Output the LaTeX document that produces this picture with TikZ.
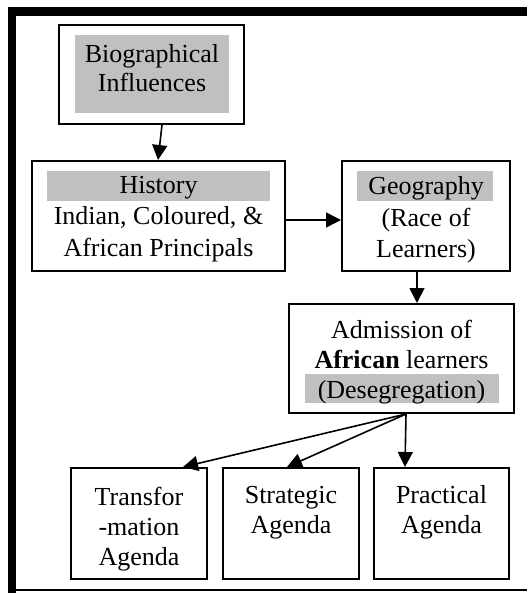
\documentclass[tikz,border=0pt]{standalone}
\usepackage{fontspec}
\setmainfont{Liberation Serif}
\usetikzlibrary{arrows.meta}
\definecolor{hl}{RGB}{192,192,192}
\begin{document}
\begin{tikzpicture}[x=1pt,y=-1pt,
  box/.style={draw, line width=1.6pt, inner sep=0pt},
  txt/.style={anchor=base, inner sep=0pt, font=\fontsize{26}{30}\selectfont},
  arr/.style={line width=1.6pt, -{Triangle[length=15pt,width=15pt]}}]
\useasboundingbox (0,0) rectangle (527,593);

% outer frame: heavy top and left rules, thin bottom rule
\fill (8,7) rectangle (527,16);
\fill (8,7) rectangle (16,593);
\draw[line width=2pt] (16,589.5) -- (527,589.5);

% grey highlight bars behind headings
\fill[hl] (75,35) rectangle (229,113);
\fill[hl] (47,171) rectangle (270,201);
\fill[hl] (357,171) rectangle (493,201);
\fill[hl] (305,374) rectangle (499,403);

% boxes
\node[box, minimum width=185.4pt, minimum height=99.4pt] (bio) at (151.5,74.5) {};
\node[box, minimum width=253.4pt, minimum height=110.4pt] (hist) at (158.5,216) {};
\node[box, minimum width=168.4pt, minimum height=110.4pt] (geo) at (426,216) {};
\node[box, minimum width=225.4pt, minimum height=109.4pt] (adm) at (401.5,358.5) {};
\node[box, minimum width=136.4pt, minimum height=111.4pt] (tr) at (139,523.5) {};
\node[box, minimum width=136.4pt, minimum height=111.4pt] (st) at (291,523.5) {};
\node[box, minimum width=135.4pt, minimum height=111.4pt] (pr) at (441.5,523.5) {};

% box texts
\node[txt] (bio1) at (152,62.7) {Biographical};
\node[txt] (bio2) at (152,91.7) {Influences};

\node[txt] (hist1) at (158.5,194) {History};
\node[txt] (hist2) at (158.5,225) {Indian, Coloured, \&};
\node[txt] (hist3) at (158.5,256.5) {African Principals};

\node[txt] (geo1) at (426,195) {Geography};
\node[txt] (geo2) at (426,226) {(Race of};
\node[txt] (geo3) at (426,257) {Learners)};

\node[txt] (adm1) at (401.5,338) {Admission of};
\node[txt] (adm2) at (401.5,368) {\textbf{African} learners};
\node[txt] (adm3) at (401.5,398) {(Desegregation)};

\node[txt] (tr1) at (139,505) {Transfor};
\node[txt] (tr2) at (139,535) {-mation};
\node[txt] (tr3) at (139,565) {Agenda};

\node[txt] (st1) at (291,503) {Strategic};
\node[txt] (st2) at (291,533) {Agenda};

\node[txt] (pr1) at (441.5,503) {Practical};
\node[txt] (pr2) at (441.5,533) {Agenda};

% connectors
\draw[arr] ([xshift=10.5pt]bio.south) -- ([xshift=-0.5pt]hist.north);
\draw[arr] ([yshift=-4pt]hist.east) -- ([yshift=-4pt]geo.west);
\draw[arr] ([xshift=-9pt]geo.south) -- ([xshift=15.5pt]adm.north);
\coordinate (fan) at ([xshift=4.5pt]adm.south);
\draw[arr] (fan) -- ([xshift=44pt]tr.north);
\draw[arr] (fan) -- ([xshift=-4pt]st.north);
\draw[arr] (fan) -- ([xshift=-36.5pt]pr.north);
\end{tikzpicture}
\end{document}
